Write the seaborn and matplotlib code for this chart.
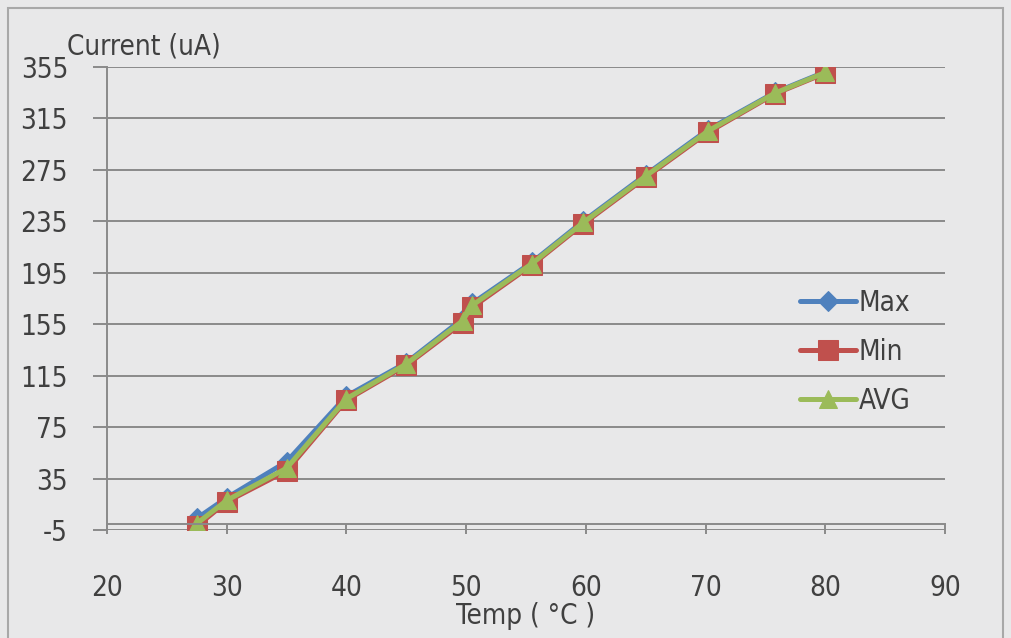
import matplotlib
matplotlib.use("Agg")
import matplotlib.pyplot as plt
import seaborn as sns
import pandas as pd
from matplotlib.patches import Rectangle

# ---- data ----
temp = [27.5, 30, 35, 40, 45, 49.7, 50.5, 55.5, 59.8, 65, 70.2, 75.8, 80]
max_vals = [4, 20, 48, 99, 125, 159, 171, 203, 235, 271, 306, 335, 351]
min_vals = [-2, 17, 41, 96, 123, 156, 168, 201, 233, 269, 304, 334, 350]
avg_vals = [0, 18, 43, 97, 124, 157.5, 169.5, 202, 234, 270, 305, 334.5, 350.5]
series_names = ["Max", "Min", "AVG"]
x_ticks = [20, 30, 40, 50, 60, 70, 80, 90]
y_ticks = [-5, 35, 75, 115, 155, 195, 235, 275, 315, 355]
x_label = "Temp ( °C )"
y_label = "Current (uA)"

sns.set_style("white")
plt.rcParams["font.family"] = ["DejaVu Sans"]
plt.rcParams["font.stretch"] = "condensed"
plt.rcParams["axes.unicode_minus"] = False

bg = "#e8e8e9"
txt = "#404040"
colors = {"Max": "#4f81bd", "Min": "#c0504d", "AVG": "#9bbb59"}
markers = {"Max": "D", "Min": "s", "AVG": "^"}
msizes = {"Max": 10, "Min": 14, "AVG": 13}

fig = plt.figure(figsize=(10.11, 6.38), dpi=100, facecolor=bg)
W, H = 1011, 638
ax = fig.add_axes([107 / W, 1 - 530 / H, (945 - 107) / W, (530 - 66.7) / H])
ax.set_facecolor(bg)

df = pd.DataFrame({"temp": temp, "Max": max_vals, "Min": min_vals, "AVG": avg_vals})
for name in series_names:
    sns.lineplot(data=df, x="temp", y=name, ax=ax, color=colors[name],
                 marker=markers[name], markersize=msizes[name],
                 markeredgecolor=colors[name], linewidth=3.6, sort=False,
                 label=name, estimator=None)

ax.set_xlim(20, 90)
ax.set_ylim(-5, 355)
ax.set_xticks(x_ticks)
ax.set_yticks(y_ticks)
ax.grid(axis="y", color="#8a8a8a", linewidth=1.4)
ax.grid(axis="x", visible=False)
ax.set_axisbelow(True)

for s in ["top", "right"]:
    ax.spines[s].set_visible(False)
ax.spines["left"].set_color("#8a8a8a")
ax.spines["left"].set_linewidth(1.4)
ax.spines["bottom"].set_color("#8a8a8a")
ax.spines["bottom"].set_linewidth(1.4)
ax.spines["bottom"].set_position(("data", 0))

ax.tick_params(axis="y", direction="out", length=10, width=1.4, color="#8a8a8a",
               labelsize=20, labelcolor=txt, pad=18)
ax.tick_params(axis="x", direction="out", length=7, width=1.4, color="#8a8a8a",
               labelsize=20, labelcolor=txt, pad=29)
ax.tick_params(axis="y", left=True)
ax.tick_params(axis="x", bottom=True)

ax.set_xlabel(x_label, fontsize=20, color=txt, labelpad=0)
ax.set_ylabel("")
fig.text(67 / W, 1 - 47 / H, y_label, fontsize=20, color=txt, ha="left", va="center")

leg = ax.legend(loc="center left", bbox_to_anchor=(800 / W, 1 - 352 / H),
                bbox_transform=fig.transFigure, frameon=False, fontsize=20,
                handlelength=2.0, handletextpad=0.1, labelspacing=0.75,
                borderpad=0, borderaxespad=0)
for t in leg.get_texts():
    t.set_color(txt)

fig.patches.append(Rectangle((8 / W, -0.1), (1003 - 8) / W, 1.1 - 8 / H,
                             transform=fig.transFigure, fill=False,
                             edgecolor="#a8a8a8", linewidth=1.5))

fig.savefig("out.png", dpi=100, facecolor=bg)
